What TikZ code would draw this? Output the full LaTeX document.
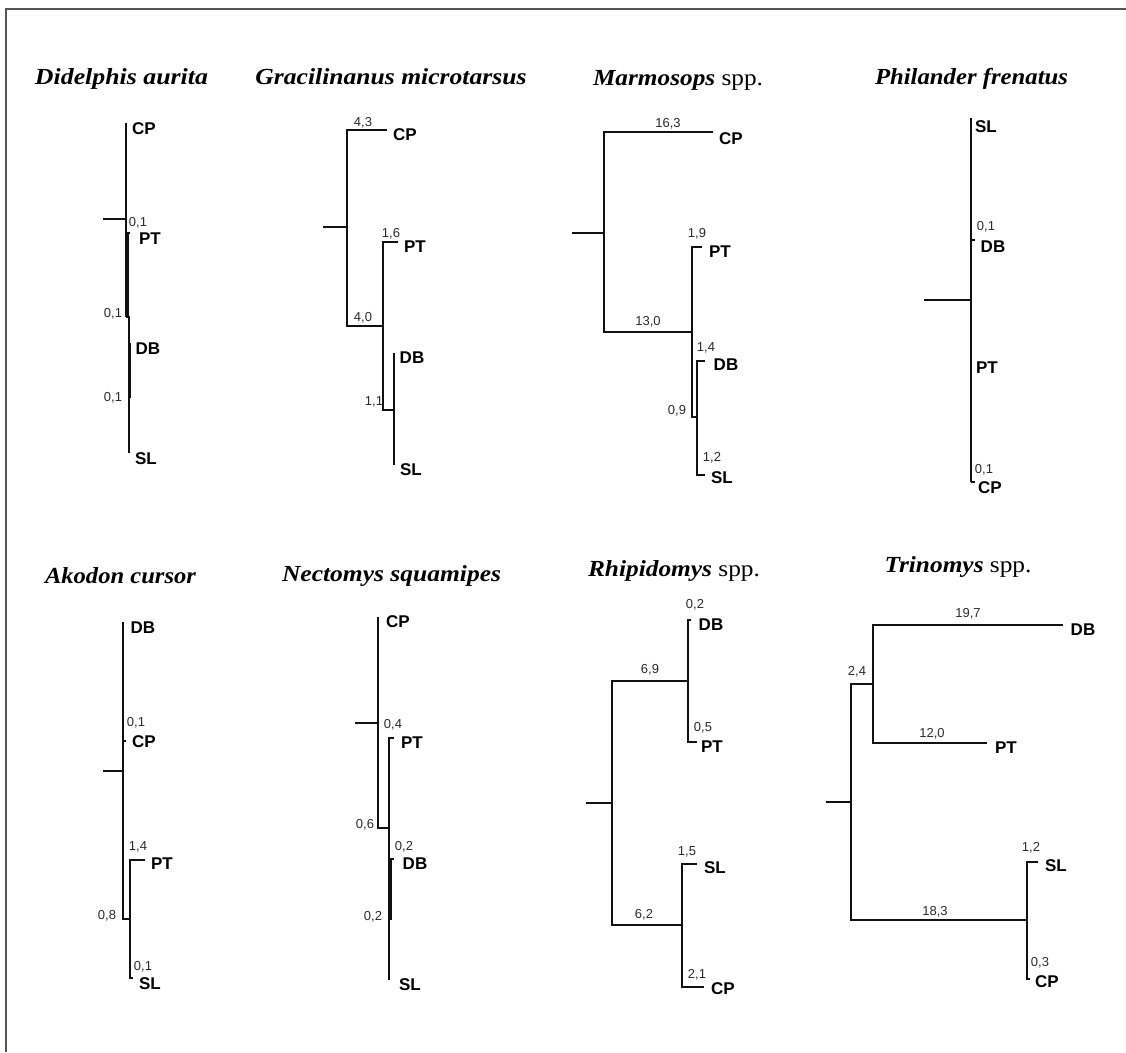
\documentclass[tikz,border=0pt]{standalone}
\usepackage{fontspec}
\usepackage{graphicx}
\setmainfont{Liberation Serif}
\newfontfamily\sansf{Liberation Sans}
\newcommand\tipfont{\sansf\bfseries\fontsize{17}{17}\selectfont}
\newcommand\numfont{\sansf\fontsize{13}{13}\selectfont}
\newcommand\ttlfont{\bfseries\itshape\fontsize{23}{23}\selectfont}
\newcommand\fitw[2]{\resizebox{#1}{\height}{#2}}
\newcommand\sppx{\upshape\mdseries spp.}
\definecolor{linec}{HTML}{111111}
\definecolor{numc}{HTML}{2A2A2A}
\definecolor{framec}{HTML}{555555}
\tikzset{
  br/.style={line width=1.7pt, draw=linec},
  thk/.style={line width=2.4pt, draw=linec},
  tl/.style={font=\tipfont, inner sep=0pt, text=black},
  nl/.style={font=\numfont, inner sep=0pt, text=numc},
  ttl/.style={font=\ttlfont, inner sep=0pt, anchor=base, text=black},
  framel/.style={line width=2pt, draw=framec},
}
\begin{document}
\begin{tikzpicture}[x=1pt,y=-1pt]
\useasboundingbox (0,0) rectangle (1126,1052);
% frame
\coordinate (fr-bl) at (6,1052);
\coordinate (fr-tl) at (6,9);
\coordinate (fr-tr) at (1126,9);
\draw[framel] (fr-bl) -- (fr-tl) -- (fr-tr);

% titles
\node[ttl] (t1) at (121.5,84) {\fitw{173pt}{Didelphis aurita}};
\node[ttl] (t2) at (391,84) {\fitw{271pt}{Gracilinanus microtarsus}};
\node[ttl] (t3) at (678,85) {\fitw{170pt}{Marmosops \sppx}};
\node[ttl] (t4) at (971.5,84) {\fitw{193pt}{Philander frenatus}};
\node[ttl] (t5) at (120.5,583) {\fitw{151pt}{Akodon cursor}};
\node[ttl] (t6) at (391.5,581) {\fitw{219pt}{Nectomys squamipes}};
\node[ttl] (t7) at (674,576) {\fitw{172pt}{Rhipidomys \sppx}};
\node[ttl] (t8) at (958,572) {\fitw{147pt}{Trinomys \sppx}};

% ---------- Didelphis aurita
\coordinate (da-s) at (103,219);
\coordinate (da-r) at (126,219);
\coordinate (da-cp) at (126,123);
\coordinate (da-n1) at (126,317);
\coordinate (da-pt) at (128,233);
\coordinate (da-ptt) at (130,233);
\coordinate (da-n2) at (129,397);
\coordinate (da-db) at (130.5,343);
\coordinate (da-sl) at (129,453);
\draw[br] (da-s) -- (da-r);
\draw[br] (da-r) -- (da-cp);
\draw[br] (da-r) -- (da-n1);
\draw[br] (da-n1) -| (da-pt) -- (da-ptt);
\draw[br] (da-n1) -| (da-n2);
\draw[br] (da-n2) -| (da-db);
\draw[br] (da-n2) -- (da-sl);
\node[tl] (da-cpl) at (144,129) {CP};
\node[tl] (da-ptl) at (150,239) {PT};
\node[tl] (da-dbl) at (148,349) {DB};
\node[tl] (da-sll) at (146,459) {SL};
\node[nl] (da-v1) at (138,223) {0,1};
\node[nl] (da-v2) at (113,314) {0,1};
\node[nl] (da-v3) at (113,398) {0,1};

% ---------- Gracilinanus microtarsus
\coordinate (gm-s) at (323,227);
\coordinate (gm-r) at (347,227);
\coordinate (gm-cp) at (387,130);
\coordinate (gm-n1) at (383,326);
\coordinate (gm-pt) at (398,242);
\coordinate (gm-n2) at (394,410);
\coordinate (gm-db) at (394,353);
\coordinate (gm-sl) at (394,465);
\draw[br] (gm-s) -- (gm-r);
\draw[br] (gm-r) |- (gm-cp);
\draw[br] (gm-r) |- (gm-n1);
\draw[br] (gm-n1) |- (gm-pt);
\draw[br] (gm-n1) |- (gm-n2);
\draw[br] (gm-n2) -- (gm-db);
\draw[br] (gm-n2) -- (gm-sl);
\node[tl] (gm-cpl) at (405,135) {CP};
\node[tl] (gm-ptl) at (415,247) {PT};
\node[tl] (gm-dbl) at (412,358) {DB};
\node[tl] (gm-sll) at (411,470) {SL};
\node[nl] (gm-v1) at (363,123) {4,3};
\node[nl] (gm-v2) at (363,318) {4,0};
\node[nl] (gm-v3) at (391,234) {1,6};
\node[nl] (gm-v4) at (374,402) {1,1};

% ---------- Marmosops spp.
\coordinate (mm-s) at (572,233);
\coordinate (mm-r) at (604,233);
\coordinate (mm-cp) at (713,132);
\coordinate (mm-n1) at (692,332);
\coordinate (mm-pt) at (702,247);
\coordinate (mm-n2) at (697,417);
\coordinate (mm-db) at (705,361);
\coordinate (mm-sl) at (705,475);
\draw[br] (mm-s) -- (mm-r);
\draw[br] (mm-r) |- (mm-cp);
\draw[br] (mm-r) |- (mm-n1);
\draw[br] (mm-n1) |- (mm-pt);
\draw[br] (mm-n1) |- (mm-n2);
\draw[br] (mm-n2) |- (mm-db);
\draw[br] (mm-n2) |- (mm-sl);
\node[tl] (mm-cpl) at (731,139) {CP};
\node[tl] (mm-ptl) at (720,252) {PT};
\node[tl] (mm-dbl) at (726,365) {DB};
\node[tl] (mm-sll) at (722,478) {SL};
\node[nl] (mm-v1) at (668,124) {16,3};
\node[nl] (mm-v2) at (648,322) {13,0};
\node[nl] (mm-v3) at (697,234) {1,9};
\node[nl] (mm-v4) at (677,411) {0,9};
\node[nl] (mm-v5) at (706,348) {1,4};
\node[nl] (mm-v6) at (712,458) {1,2};

% ---------- Philander frenatus
\coordinate (pf-s) at (924,300);
\coordinate (pf-r) at (971,300);
\coordinate (pf-sl) at (971,118);
\coordinate (pf-cp) at (971,482);
\coordinate (pf-dbn) at (971,240);
\coordinate (pf-db) at (975,240);
\coordinate (pf-cpt) at (975,482);
\draw[thk] (pf-s) -- (pf-r);
\draw[br] (pf-r) -- (pf-sl);
\draw[br] (pf-r) -- (pf-cp);
\draw[br] (pf-dbn) -- (pf-db);
\draw[br] (pf-cp) -- (pf-cpt);
\node[tl] (pf-sll) at (986,127) {SL};
\node[tl] (pf-dbl) at (993,247) {DB};
\node[tl] (pf-ptl) at (987,368) {PT};
\node[tl] (pf-cpl) at (990,488) {CP};
\node[nl] (pf-v1) at (986,227) {0,1};
\node[nl] (pf-v2) at (984,470) {0,1};

% ---------- Akodon cursor
\coordinate (ac-s) at (103,771);
\coordinate (ac-r) at (123,771);
\coordinate (ac-db) at (123,622);
\coordinate (ac-cpn) at (123,741);
\coordinate (ac-cpt) at (126,741);
\coordinate (ac-n1) at (123,919);
\coordinate (ac-n2) at (130,919);
\coordinate (ac-pt) at (145,860);
\coordinate (ac-sl) at (130,978);
\coordinate (ac-slt) at (133,978);
\draw[br] (ac-s) -- (ac-r);
\draw[br] (ac-r) -- (ac-db);
\draw[br] (ac-r) -- (ac-n1) -- (ac-n2);
\draw[br] (ac-n2) |- (ac-pt);
\draw[br] (ac-n2) -- (ac-sl) -- (ac-slt);
\draw[br] (ac-cpn) -- (ac-cpt);
\node[tl] (ac-dbl) at (143,628) {DB};
\node[tl] (ac-cpl) at (144,742) {CP};
\node[tl] (ac-ptl) at (162,864) {PT};
\node[tl] (ac-sll) at (150,984) {SL};
\node[nl] (ac-v1) at (136,723) {0,1};
\node[nl] (ac-v2) at (138,847) {1,4};
\node[nl] (ac-v3) at (107,916) {0,8};
\node[nl] (ac-v4) at (143,967) {0,1};

% ---------- Nectomys squamipes
\coordinate (ns-s) at (355,723);
\coordinate (ns-r) at (378,723);
\coordinate (ns-cp) at (378,617);
\coordinate (ns-n1) at (378,828);
\coordinate (ns-n2) at (389,828);
\coordinate (ns-pt) at (394,738);
\coordinate (ns-n3) at (389,919);
\coordinate (ns-n3b) at (391,919);
\coordinate (ns-dbv) at (391,859);
\coordinate (ns-db) at (394,859);
\coordinate (ns-sl) at (389,980);
\draw[br] (ns-s) -- (ns-r);
\draw[br] (ns-r) -- (ns-cp);
\draw[br] (ns-r) -- (ns-n1) -- (ns-n2);
\draw[br] (ns-n2) |- (ns-pt);
\draw[br] (ns-n2) -- (ns-n3) -- (ns-sl);
\draw[br] (ns-n3) -- (ns-n3b) -- (ns-dbv) -- (ns-db);
\node[tl] (ns-cpl) at (398,622) {CP};
\node[tl] (ns-ptl) at (412,743) {PT};
\node[tl] (ns-dbl) at (415,864) {DB};
\node[tl] (ns-sll) at (410,985) {SL};
\node[nl] (ns-v1) at (393,725) {0,4};
\node[nl] (ns-v2) at (365,825) {0,6};
\node[nl] (ns-v3) at (404,847) {0,2};
\node[nl] (ns-v4) at (373,917) {0,2};

% ---------- Rhipidomys spp.
\coordinate (rs-s) at (586,803);
\coordinate (rs-r) at (612,803);
\coordinate (rs-n1) at (688,681);
\coordinate (rs-n2) at (682,925);
\coordinate (rs-db) at (691,620);
\coordinate (rs-pt) at (697,742);
\coordinate (rs-sl) at (697,864);
\coordinate (rs-cp) at (704,987);
\draw[br] (rs-s) -- (rs-r);
\draw[br] (rs-r) |- (rs-n1);
\draw[br] (rs-r) |- (rs-n2);
\draw[br] (rs-n1) |- (rs-db);
\draw[br] (rs-n1) |- (rs-pt);
\draw[br] (rs-n2) |- (rs-sl);
\draw[br] (rs-n2) |- (rs-cp);
\node[tl] (rs-dbl) at (711,625) {DB};
\node[tl] (rs-ptl) at (712,747) {PT};
\node[tl] (rs-sll) at (715,868) {SL};
\node[tl] (rs-cpl) at (723,989) {CP};
\node[nl] (rs-v1) at (695,605) {0,2};
\node[nl] (rs-v2) at (650,670) {6,9};
\node[nl] (rs-v3) at (703,728) {0,5};
\node[nl] (rs-v4) at (687,852) {1,5};
\node[nl] (rs-v5) at (644,915) {6,2};
\node[nl] (rs-v6) at (697,975) {2,1};

% ---------- Trinomys spp.
\coordinate (ts-s) at (826,802);
\coordinate (ts-r) at (851,802);
\coordinate (ts-n1) at (873,684);
\coordinate (ts-n2) at (1027,920);
\coordinate (ts-db) at (1063,625);
\coordinate (ts-pt) at (987,743);
\coordinate (ts-sl) at (1038,862);
\coordinate (ts-cp) at (1030,979);
\draw[br] (ts-s) -- (ts-r);
\draw[br] (ts-r) |- (ts-n1);
\draw[br] (ts-r) |- (ts-n2);
\draw[br] (ts-n1) |- (ts-db);
\draw[br] (ts-n1) |- (ts-pt);
\draw[br] (ts-n2) |- (ts-sl);
\draw[br] (ts-n2) |- (ts-cp);
\node[tl] (ts-dbl) at (1083,630) {DB};
\node[tl] (ts-ptl) at (1006,748) {PT};
\node[tl] (ts-sll) at (1056,866) {SL};
\node[tl] (ts-cpl) at (1047,982) {CP};
\node[nl] (ts-v1) at (968,614) {19,7};
\node[nl] (ts-v2) at (857,672) {2,4};
\node[nl] (ts-v3) at (932,734) {12,0};
\node[nl] (ts-v4) at (1031,848) {1,2};
\node[nl] (ts-v5) at (935,912) {18,3};
\node[nl] (ts-v6) at (1040,963) {0,3};
\end{tikzpicture}
\end{document}
